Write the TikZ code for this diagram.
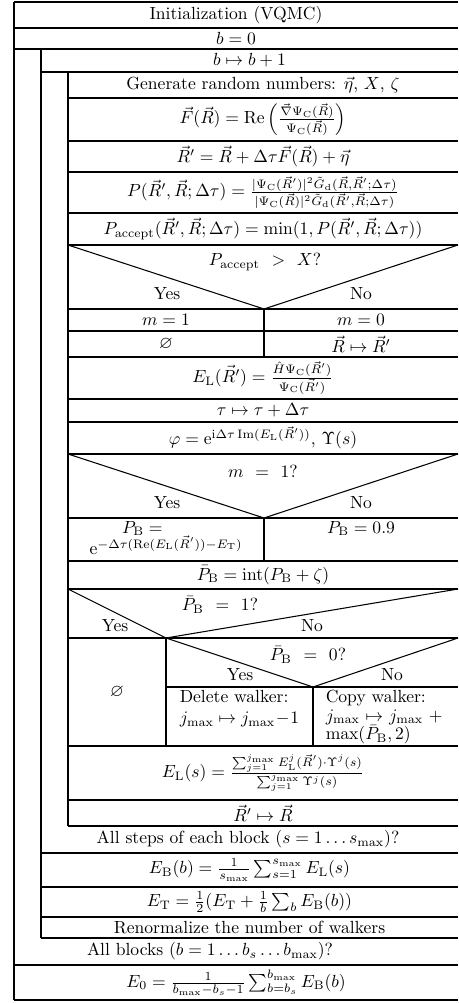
\documentclass[tikz,border=0pt]{standalone}
\usepackage{amsmath}
\usepackage{amssymb}
\usepackage{tikz}
\usetikzlibrary{positioning}

\begin{document}
\begin{tikzpicture}[
  x=0.02cm, y=-0.02cm,
  frame/.style={line width=0.6pt, color=black},
  cell/.style={inner sep=0pt, align=center},
  topcell/.style={cell, anchor=north},
  walker/.style={inner sep=0pt, anchor=north, text width=68pt, align=left}
]
  \useasboundingbox (0,0) rectangle (458,1003);

  % frame and loop bars
  \draw[frame] (14,2) -- (458,2);
  \draw[frame] (14,2) -- (14,1000);
  \draw[frame] (41,49) -- (41,938);
  \draw[frame] (68,72) -- (68,826);
  \foreach \y in {28,49}
    \draw[frame] (14,\y) -- (458,\y);
  \draw[frame] (41,72) -- (458,72);
  \foreach \y in {98,141,172,213,245,309,331,357,399,422,454,518,561,589,638,746,800,826}
    \draw[frame] (68,\y) -- (458,\y);
  \draw[frame] (166,687) -- (458,687);
  \foreach \y in {853,887,917,938}
    \draw[frame] (41,\y) -- (458,\y);
  \foreach \y in {965,1000}
    \draw[frame] (14,\y) -- (458,\y);

  % decisions
  \draw[frame] (68,245) -- (264,309) -- (458,245);
  \draw[frame] (264,309) -- (264,357);
  \draw[frame] (68,454) -- (264,518) -- (458,454);
  \draw[frame] (264,518) -- (264,561);
  \draw[frame] (68,589) -- (166,638) -- (458,589);
  \draw[frame] (166,638) -- (166,746);
  \draw[frame] (166,638) -- (313,687) -- (458,638);
  \draw[frame] (313,687) -- (313,746);

  % outer part
  \node[cell] (init) at (236,15) {Initialization (VQMC)};
  \node[cell] (bzero) at (236,38.5) {$b=0$};
  \node[cell] (binc) at (249.5,60.5) {$b\mapsto b+1$};

  % inner loop body
  \node[cell] (gen) at (263,85) {Generate random numbers: $\vec\eta$, $X$, $\zeta$};
  \node[cell] (drift) at (263,119.5)
    {$\vec F(\vec R)=\mathrm{Re}\left(\frac{\vec\nabla\Psi_{\mathrm C}(\vec R)}{\Psi_{\mathrm C}(\vec R)}\right)$};
  \node[cell] (move) at (263,156.5) {$\vec R'=\vec R+\Delta\tau\vec F(\vec R)+\vec\eta$};
  \node[cell] (ratio) at (263,192.5)
    {$P(\vec R',\vec R;\Delta\tau)=\frac{|\Psi_{\mathrm C}(\vec R')|^2\tilde G_{\mathrm d}(\vec R,\vec R';\Delta\tau)}{|\Psi_{\mathrm C}(\vec R)|^2\tilde G_{\mathrm d}(\vec R',\vec R;\Delta\tau)}$};
  \node[cell] (pacc) at (263,229)
    {$P_{\mathrm{accept}}(\vec R',\vec R;\Delta\tau)=\min(1,P(\vec R',\vec R;\Delta\tau))$};

  \node[cell] (qacc) at (265,262) {$P_{\mathrm{accept}}$ \ $>$ \ $X$?};
  \node[cell] (qaccyes) at (167,294) {Yes};
  \node[cell] (qaccno) at (361,294) {No};
  \node[cell] (mone) at (166,320) {$m=1$};
  \node[cell] (mzero) at (361,320) {$m=0$};
  \node[cell] (keep) at (166,344) {$\varnothing$};
  \node[cell] (accept) at (361,344) {$\vec R\mapsto\vec R'$};

  \node[cell] (eloc) at (263,378)
    {$E_{\mathrm L}(\vec R')=\frac{\hat H\Psi_{\mathrm C}(\vec R')}{\Psi_{\mathrm C}(\vec R')}$};
  \node[cell] (tau) at (263,410.5) {$\tau\mapsto\tau+\Delta\tau$};
  \node[cell] (phase) at (263,438)
    {$\varphi=\mathrm e^{\mathrm i\Delta\tau\,\mathrm{Im}(E_{\mathrm L}(\vec R'))}$,\ $\Upsilon(s)$};

  \node[cell] (qm) at (263,471) {$m$ \ $=$ \ $1$?};
  \node[cell] (qmyes) at (167,503) {Yes};
  \node[cell] (qmno) at (361,503) {No};
  \node[topcell] (pbexp) at (166,521)
    {$P_{\mathrm B}=$\hspace*{27pt}\\ $\mathrm e^{-\Delta\tau(\mathrm{Re}(E_{\mathrm L}(\vec R'))-E_{\mathrm T})}$};
  \node[topcell] (pbfix) at (361,521) {$P_{\mathrm B}=0.9$};

  \node[cell] (pbint) at (263,575) {$\bar P_{\mathrm B}=\mathrm{int}(P_{\mathrm B}+\zeta)$};

  \node[cell] (qone) at (220,605) {$\bar P_{\mathrm B}$ \ $=$ \ $1$?};
  \node[cell] (qoneyes) at (115,626) {Yes};
  \node[cell] (qoneno) at (312,626) {No};
  \node[cell] (stay) at (117,692) {$\varnothing$};
  \node[cell] (qzero) at (308,655) {$\bar P_{\mathrm B}$ \ $=$ \ $0$?};
  \node[cell] (qzeroyes) at (240,675) {Yes};
  \node[cell] (qzerono) at (392,675) {No};
  \node[walker] (delete) at (239.5,690)
    {Delete walker:\\ $j_{\max}\mapsto j_{\max}-1$};
  \node[walker] (copy) at (385.5,690)
    {Copy walker:\\[-1.5pt] \makebox[68pt][s]{$j_{\max}$ $\mapsto$ $j_{\max}$ $+$}\\[-1.5pt] $\max(\bar P_{\mathrm B},2)$};

  \node[cell] (elocs) at (263,773)
    {$E_{\mathrm L}(s)=\frac{\sum_{j=1}^{j_{\max}}E_{\mathrm L}^j(\vec R')\cdot\Upsilon^j(s)}{\sum_{j=1}^{j_{\max}}\Upsilon^j(s)}$};
  \node[cell] (update) at (263,813) {$\vec R'\mapsto\vec R$};

  % end of inner loop
  \node[cell] (steps) at (248,839.5) {All steps of each block ($s=1\ldots s_{\max}$)?};
  \node[cell] (eblock) at (249.5,870)
    {$E_{\mathrm B}(b)=\frac{1}{s_{\max}}\sum_{s=1}^{s_{\max}}E_{\mathrm L}(s)$};
  \node[cell] (etrial) at (249.5,902)
    {$E_{\mathrm T}=\frac12(E_{\mathrm T}+\frac1b\sum_b E_{\mathrm B}(b))$};
  \node[cell] (renorm) at (249.5,927.5) {Renormalize the number of walkers};

  % end of outer loop
  \node[cell] (blocks) at (210,951.5) {All blocks ($b=1\ldots b_s\ldots b_{\max}$)?};
  \node[cell] (ezero) at (236,982.5)
    {$E_0=\frac{1}{b_{\max}-b_s-1}\sum_{b=b_s}^{b_{\max}}E_{\mathrm B}(b)$};
\end{tikzpicture}
\end{document}
